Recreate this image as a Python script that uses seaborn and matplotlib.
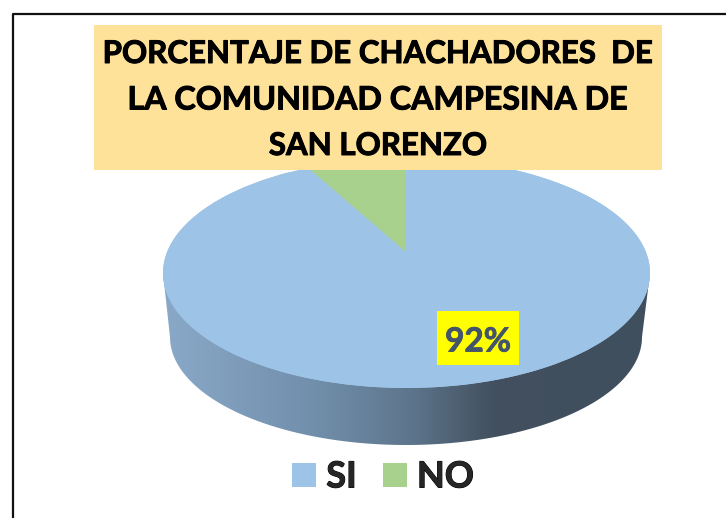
import numpy as np
import matplotlib
matplotlib.use("Agg")
import matplotlib.pyplot as plt
import matplotlib.patheffects as pe
import seaborn as sns
from matplotlib.colors import LinearSegmentedColormap
from matplotlib.patches import Ellipse, Polygon, Rectangle
from matplotlib.lines import Line2D

categories = ["SI", "NO"]
values = [92, 8]
title_lines = ["PORCENTAJE DE CHACHADORES  DE", "LA COMUNIDAD CAMPESINA DE", "SAN LORENZO"]
colors = ["#9DC3E6", "#A9D18E"]

W, H = 726, 518

sns.set_theme(style="white")
plt.rcParams["font.family"] = ["Lato", "DejaVu Sans"]
palette = sns.color_palette(colors)

fig = plt.figure(figsize=(W / 100, H / 100), dpi=100, facecolor="white")

# ejes = elipse superior del pastel (en pixeles 163-650, 158-388)
left, right, top, bottom = 163, 650, 158, 388
ax = fig.add_axes([left / W, 1 - bottom / H, (right - left) / W, (bottom - top) / H])

rx = (right - left) / 2
ry = (bottom - top) / 2
cx = (left + right) / 2
cy = (top + bottom) / 2


def to_data(px, py):
    return (px - cx) / rx, (cy - py) / ry


# pared lateral con degradado
t = np.linspace(np.pi, 2 * np.pi, 200)
low_cx, low_cy = to_data(406, 337)
low_rx, low_ry = 236 / rx, 108 / ry
wall = [(-1, 0)] + list(zip(low_cx + low_rx * np.cos(t), low_cy + low_ry * np.sin(t))) + [(1, 0)]
wall_patch = Polygon(wall, closed=True, transform=ax.transData, fc="none", ec="none")
ax.add_patch(wall_patch)
wall_patch.set_clip_on(False)
cmap = LinearSegmentedColormap.from_list(
    "side", [(0, "#8AA9C8"), (0.3, "#7290AD"), (0.5, "#5F778E"), (0.68, "#42505F"), (1, "#3F4F5E")]
)
grad = ax.imshow(np.linspace(0, 1, 256).reshape(1, -1), cmap=cmap, aspect="auto",
                 extent=(-1, 1, -1.6, 0), zorder=1)
grad.set_clip_box(fig.bbox)
grad.set_clip_path(wall_patch)

# base para que el vertice de la porcion NO pueda subir (perspectiva)
ax.add_patch(Ellipse((0, 0), 2, 2, fc=palette[0], ec="none", zorder=2))

wedges, texts, autotexts = ax.pie(
    values, colors=palette, startangle=90, counterclock=False, radius=1,
    autopct=lambda p: f"{p:.0f}%" if p > 50 else "",
    wedgeprops={"linewidth": 0, "zorder": 3},
)
ax.set_aspect("auto")
ax.set_xlim(-1, 1)
ax.set_ylim(-1, 1)
ax.axis("off")
wedges[1].set_center(to_data(406, 252))

# etiqueta 92%
bx0, by0 = to_data(437, 365)
bx1, by1 = to_data(519, 311)
ax.add_patch(Rectangle((bx0, by0), bx1 - bx0, by1 - by0, fc="#FFFF00", ec="none", zorder=5))
autotexts[0].set_position(to_data(478, 342))
autotexts[0].set(fontsize=24, fontweight="bold", color="#44546A", ha="center", va="center", zorder=6,
                 path_effects=[pe.withStroke(linewidth=0.6, foreground="#44546A")])

# marco exterior
fig.add_artist(Line2D([13 / W, 13 / W, 1], [0, 1 - 14 / H, 1 - 14 / H], color="#111111", lw=1.6))

# titulo
fig.add_artist(Rectangle((94 / W, 1 - 170 / H), (662 - 94) / W, (170 - 25) / H,
                         transform=fig.transFigure, fc="#FEE299", ec="none", zorder=3))
for line, y, size in zip(title_lines, [54, 100, 146], [22.5, 23.2, 22.5]):
    fig.text(378 / W, 1 - y / H, line, ha="center", va="center", fontsize=size,
             fontweight="bold", color="black", zorder=4,
             path_effects=[pe.withStroke(linewidth=0.7, foreground="black")])

# leyenda
leg = fig.legend(wedges, categories, loc="center", bbox_to_anchor=(383 / W, 1 - 477 / H), ncol=2,
                 frameon=False, prop={"size": 26, "weight": "bold"}, handlelength=0.667, handleheight=0.667,
                 handletextpad=0.28, columnspacing=0.72)
for txt in leg.get_texts():
    txt.set_path_effects([pe.withStroke(linewidth=0.7, foreground="black")])

fig.savefig("out.png", dpi=100)
